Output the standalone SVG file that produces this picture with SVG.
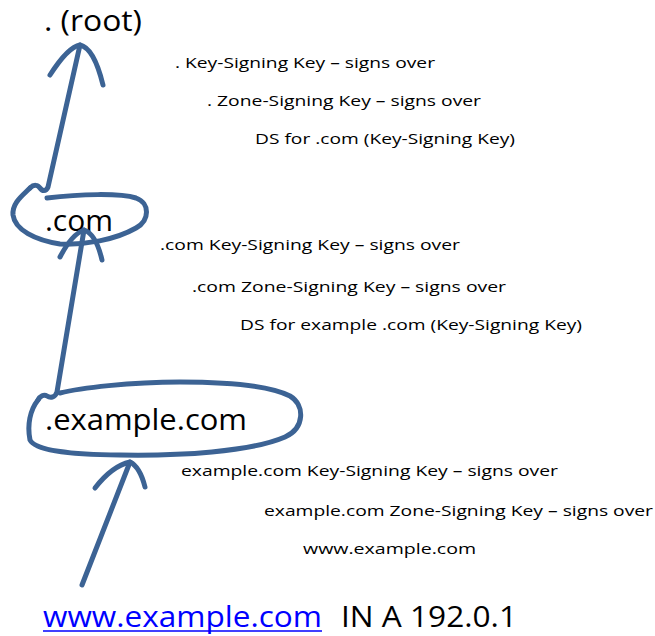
<svg xmlns="http://www.w3.org/2000/svg" width="655" height="636" viewBox="0 0 655 636">
  <style>
    .ink { fill: none; stroke: #3C6394; stroke-width: 5; stroke-linecap: round; stroke-linejoin: round; }
    .big { font-family: "Open Sans", "Liberation Sans", sans-serif; font-size: 30px; fill: #000; }
    .note { font-family: "Open Sans", "Liberation Sans", sans-serif; font-size: 14.5px; fill: #000; }
    .link { fill: #0000FF; }
  </style>
  <rect width="655" height="636" fill="#fff"/>

  <!-- zone: root -->
  <g id="root">
    <text class="big" x="44" y="31" textLength="98" lengthAdjust="spacingAndGlyphs">. (root)</text>
    <text class="note" x="175" y="68" textLength="260" lengthAdjust="spacingAndGlyphs">. Key-Signing Key – signs over</text>
    <text class="note" x="207" y="106" textLength="274" lengthAdjust="spacingAndGlyphs">. Zone-Signing Key – signs over</text>
    <text class="note" x="255" y="144" textLength="260" lengthAdjust="spacingAndGlyphs">DS for .com (Key-Signing Key)</text>
  </g>

  <!-- zone: .com -->
  <g id="com">
    <path class="ink" d="M47,198 C80,194 120,193 136,198 C150,203 150,220 136,228 C115,240 85,245 60,244 C35,240 15,230 13,215 C12,203 22,196 30,188"/>
    <text class="big" x="45" y="231" textLength="68" lengthAdjust="spacingAndGlyphs">.com</text>
    <text class="note" x="160" y="250" textLength="300" lengthAdjust="spacingAndGlyphs">.com Key-Signing Key – signs over</text>
    <text class="note" x="192" y="292" textLength="314" lengthAdjust="spacingAndGlyphs">.com Zone-Signing Key – signs over</text>
    <text class="note" x="240" y="330" textLength="342" lengthAdjust="spacingAndGlyphs">DS for example .com (Key-Signing Key)</text>
  </g>

  <!-- zone: example.com -->
  <g id="example">
    <path class="ink" d="M60,393 C80,388 130,382 180,382 C230,382 270,386 290,396 C305,405 305,428 285,437 C250,452 180,456 120,455 C70,455 35,450 30,440 C27,425 30,410 38,400"/>
    <text class="big" x="45" y="430" textLength="202" lengthAdjust="spacingAndGlyphs">.example.com</text>
    <text class="note" x="181" y="476" textLength="377" lengthAdjust="spacingAndGlyphs">example.com Key-Signing Key – signs over</text>
    <text class="note" x="264" y="516" textLength="389" lengthAdjust="spacingAndGlyphs">example.com Zone-Signing Key – signs over</text>
    <text class="note" x="303" y="554" textLength="173" lengthAdjust="spacingAndGlyphs">www.example.com</text>
  </g>

  <!-- record: www.example.com -->
  <g id="www">
    <text class="big link" x="43" y="627" textLength="279" lengthAdjust="spacingAndGlyphs">www.example.com</text>
    <line x1="43" y1="631" x2="322" y2="631" stroke="#0000FF" stroke-width="1.6"/>
    <text class="big" x="341" y="627" textLength="176" lengthAdjust="spacingAndGlyphs">IN A 192.0.1</text>
  </g>

  <!-- hand-drawn arrows between zones -->
  <g id="connectors">
    <path class="ink" d="M30,188 C34,184 38,185 40,188 C42,191 46,192 48,187 L80,45"/>
    <path class="ink" d="M50,75 Q68,47 80,45 Q94,48 103,85"/>
    <path class="ink" d="M38,400 C40,396 44,394 47,396 C50,398 55,398 57,392 L84,230"/>
    <path class="ink" d="M60,257 Q72,234 84,230 Q96,234 102,260"/>
    <path class="ink" d="M82,585 L130,462"/>
    <path class="ink" d="M95,488 Q112,466 130,462 Q140,467 145,487"/>
  </g>
</svg>
